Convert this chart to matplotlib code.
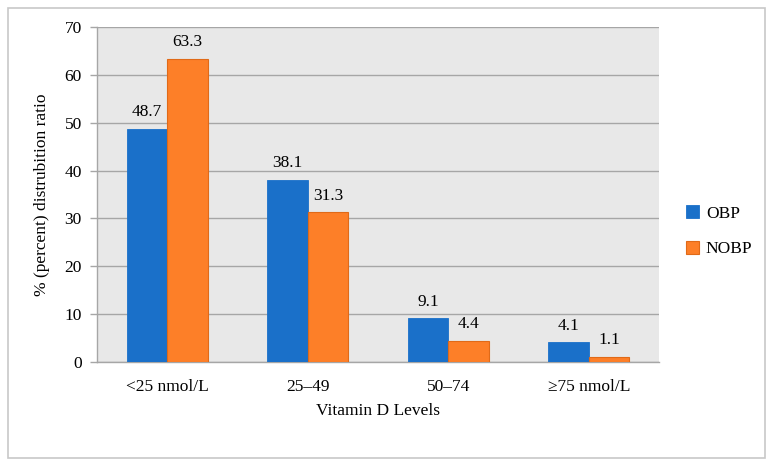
import matplotlib.pyplot as plt
from matplotlib.patches import Rectangle
import numpy as np

plt.rcParams['font.family'] = ['Liberation Serif', 'DejaVu Serif']

# data
categories = ['<25 nmol/L', '25–49', '50–74', '≥75 nmol/L']
obp = [48.7, 38.1, 9.1, 4.1]
nobp = [63.3, 31.3, 4.4, 1.1]
series_names = ['OBP', 'NOBP']

blue = '#1a70c9'
orange = '#fd7f28'

W, H = 773, 466
fig = plt.figure(figsize=(W / 100, H / 100), dpi=100)

# outer frame
fig.patches.append(Rectangle((8 / W, 8 / H), 757 / W, 450 / H,
                             transform=fig.transFigure, fill=False,
                             edgecolor='#c8c8c8', linewidth=1.2))

ax = fig.add_axes([97 / W, (H - 362) / H, 562 / W, 335 / H])
ax.set_facecolor('#e8e8e8')

x = np.arange(len(categories))
bw = 0.29
b1 = ax.bar(x - bw / 2, obp, bw, color=blue, edgecolor=blue, linewidth=0.6,
            label=series_names[0], zorder=3)
b2 = ax.bar(x + bw / 2, nobp, bw, color=orange, edgecolor='#e06a18', linewidth=0.8,
            label=series_names[1], zorder=3)

for bars in (b1, b2):
    for r in bars:
        h = r.get_height()
        ax.text(r.get_x() + r.get_width() / 2, h + 1.8, f'{h:.1f}',
                ha='center', va='bottom', fontsize=12.5, zorder=4)

ax.set_xlim(-0.5, 3.5)
ax.set_ylim(0, 70)
ax.set_yticks(range(0, 71, 10))
ax.yaxis.grid(True, color='#a6a6a6', linewidth=1.0, zorder=0)
ax.set_axisbelow(True)
ax.set_xticks(x)
ax.set_xticklabels(categories)
ax.tick_params(axis='x', length=0, labelsize=12.5, pad=12)
ax.tick_params(axis='y', length=5, width=1.0, color='#a6a6a6',
               labelsize=12.5, pad=6)
for s in ['top', 'right']:
    ax.spines[s].set_visible(False)
for s in ['bottom', 'left']:
    ax.spines[s].set_color('#a6a6a6')
    ax.spines[s].set_linewidth(1.0)

ax.set_xlabel('Vitamin D Levels', fontsize=12.5, labelpad=6)
ax.set_ylabel('% (percent) distrubition ratio', fontsize=12.5, labelpad=10)

ax.legend(loc='center left', bbox_to_anchor=(1.02, 0.39), frameon=False,
          fontsize=12.5, handlelength=0.75, handleheight=0.75, labelspacing=1.1,
          handletextpad=0.4)

fig.savefig('out.png', dpi=100)
